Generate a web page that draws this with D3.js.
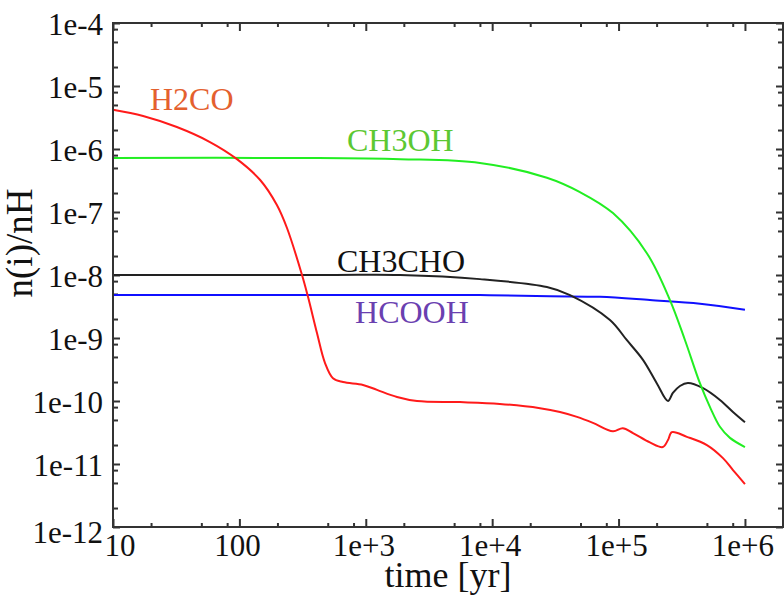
<!DOCTYPE html>
<html>
<head>
<meta charset="utf-8">
<script src="https://cdn.jsdelivr.net/npm/d3@7"></script>
<style>
  body { margin: 0; background: #ffffff; }
</style>
</head>
<body>
<svg id="chart" width="784" height="597"></svg>
<script>
// Abundances relative to H versus time (yr)
const h2coTime = [10, 17.3, 32, 58.5, 95.7, 146, 198, 238, 313, 349, 411, 476, 550, 661, 951, 1227, 1767, 2543, 5560, 11500, 23900, 34400, 46900, 62700, 90300, 108000, 130000, 177000, 224000, 246000, 264000, 347000, 500000, 670000, 804000, 1e6];
const h2coVal  = [4.2e-6, 3.34e-6, 2.23e-6, 1.29e-6, 6.9e-7, 3.22e-7, 1.29e-7, 5.57e-8, 1.0e-8, 4.5e-9, 1.2e-9, 4.0e-10, 2.3e-10, 2.0e-10, 1.8e-10, 1.5e-10, 1.16e-10, 1.0e-10, 9.6e-11, 9.0e-11, 7.7e-11, 6.7e-11, 5.6e-11, 4.5e-11, 3.3e-11, 3.7e-11, 3.1e-11, 2.2e-11, 1.86e-11, 2.4e-11, 3.2e-11, 2.7e-11, 2.0e-11, 1.24e-11, 8.0e-12, 4.8e-12];

const ch3ohTime = [10, 301, 1870, 8000, 27100, 49500, 90300, 168000, 255000, 335000, 441000, 529000, 634000, 761000, 1e6];
const ch3ohVal  = [7.2e-7, 7.2e-7, 6.9e-7, 6.0e-7, 3.5e-7, 2.07e-7, 9.6e-8, 2.2e-8, 4.0e-9, 9.3e-10, 1.9e-10, 8.0e-11, 3.9e-11, 2.6e-11, 1.86e-11];

const ch3choTime = [10, 521, 1870, 8000, 27100, 41300, 85500, 116000, 156000, 201000, 246000, 269000, 306000, 354000, 466000, 634000, 804000, 1e6];
const ch3choVal  = [1.0e-8, 1.0e-8, 1.0e-8, 8.6e-9, 6.45e-9, 4.8e-9, 1.93e-9, 9.3e-10, 4.5e-10, 1.9e-10, 1.0e-10, 1.34e-10, 1.73e-10, 1.93e-10, 1.6e-10, 1.04e-10, 6.7e-11, 4.6e-11];

const hcoohTime = [10, 1870, 8000, 28700, 71300, 177000, 441000, 1e6];
const hcoohVal  = [4.8e-9, 4.8e-9, 4.8e-9, 4.6e-9, 4.5e-9, 4.0e-9, 3.5e-9, 2.8e-9];

const xTickValues = [10, 100, 1e3, 1e4, 1e5, 1e6];
const xTickLabels = ["10", "100", "1e+3", "1e+4", "1e+5", "1e+6"];
const yTickValues = [1e-4, 1e-5, 1e-6, 1e-7, 1e-8, 1e-9, 1e-10, 1e-11, 1e-12];
const yTickLabels = ["1e-4", "1e-5", "1e-6", "1e-7", "1e-8", "1e-9", "1e-10", "1e-11", "1e-12"];

const seriesNames  = ["H2CO", "CH3OH", "CH3CHO", "HCOOH"];
const seriesLabelT = [19.6, 710, 592, 822];
const seriesLabelV = [4.2e-6, 9.3e-7, 1.12e-8, 1.73e-9];

const FONT = '"Liberation Serif", "Times New Roman", serif';

const svg = d3.select("#chart");
const mLeft = 113, mRight = 783, mTop = 23, mBottom = 527;

const x = d3.scaleLog().domain([10, 2e6]).range([mLeft, mRight]);
const y = d3.scaleLog().domain([1e-12, 1e-4]).range([mBottom, mTop]);

// minor ticks at 2, 5 and 8 times each decade
function minors(domain) {
  const out = [];
  const lo = Math.floor(Math.log10(domain[0])), hi = Math.ceil(Math.log10(domain[1]));
  for (let e = lo; e <= hi; e++) {
    [2, 5, 8].forEach(m => {
      const v = m * Math.pow(10, e);
      if (v > domain[0] && v < domain[1]) out.push(v);
    });
  }
  return out;
}
const xMinor = minors(x.domain());
const yMinor = minors(y.domain());

const axisColor = "#333333";

function styleAxis(g) {
  g.select(".domain").remove();
  g.selectAll("line").attr("stroke", axisColor).attr("stroke-width", 2);
}

// bottom and top axes
svg.append("g").attr("transform", `translate(0,${mBottom})`)
  .call(d3.axisBottom(x).tickValues(xTickValues).tickSize(-8).tickFormat(""))
  .call(styleAxis);
svg.append("g").attr("transform", `translate(0,${mBottom})`)
  .call(d3.axisBottom(x).tickValues(xMinor).tickSize(-4).tickFormat(""))
  .call(styleAxis);
svg.append("g").attr("transform", `translate(0,${mTop})`)
  .call(d3.axisTop(x).tickValues(xTickValues).tickSize(-8).tickFormat(""))
  .call(styleAxis);
svg.append("g").attr("transform", `translate(0,${mTop})`)
  .call(d3.axisTop(x).tickValues(xMinor).tickSize(-4).tickFormat(""))
  .call(styleAxis);

// left and right axes
svg.append("g").attr("transform", `translate(${mLeft},0)`)
  .call(d3.axisLeft(y).tickValues(yTickValues).tickSize(-7).tickFormat(""))
  .call(styleAxis);
svg.append("g").attr("transform", `translate(${mLeft},0)`)
  .call(d3.axisLeft(y).tickValues(yMinor).tickSize(-5).tickFormat(""))
  .call(styleAxis);
svg.append("g").attr("transform", `translate(${mRight},0)`)
  .call(d3.axisRight(y).tickValues(yTickValues).tickSize(-7).tickFormat(""))
  .call(styleAxis);
svg.append("g").attr("transform", `translate(${mRight},0)`)
  .call(d3.axisRight(y).tickValues(yMinor).tickSize(-5).tickFormat(""))
  .call(styleAxis);

// tick labels
svg.append("g").selectAll("text").data(xTickValues).join("text")
  .attr("x", (d, i) => x(d) + (i === 0 ? 7 : -2))
  .attr("y", mBottom + 29)
  .attr("text-anchor", "middle")
  .attr("font-family", FONT)
  .attr("font-size", 31)
  .attr("fill", "#111")
  .text((d, i) => xTickLabels[i]);

svg.append("g").selectAll("text").data(yTickValues).join("text")
  .attr("x", mLeft - 10)
  .attr("y", (d, i) => y(d) + (i === yTickValues.length - 1 ? 16 : 12))
  .attr("text-anchor", "end")
  .attr("font-family", FONT)
  .attr("font-size", 31)
  .attr("fill", "#111")
  .text((d, i) => yTickLabels[i]);

// axis titles
svg.append("text")
  .attr("x", (mLeft + mRight) / 2).attr("y", 587)
  .attr("text-anchor", "middle").attr("font-family", FONT)
  .attr("font-size", 36).attr("fill", "#111")
  .text("time [yr]");
svg.append("text")
  .attr("transform", "translate(32,243) rotate(-90)")
  .attr("text-anchor", "middle").attr("font-family", FONT)
  .attr("font-size", 37).attr("fill", "#111")
  .text("n(i)/nH");

// curves
const lineGen = d3.line()
  .x(d => x(d[0]))
  .y(d => y(d[1]))
  .curve(d3.curveCatmullRom.alpha(0.5));

const plot = svg.append("g");
const curves = [
  { t: hcoohTime, v: hcoohVal, color: "#1010ff" },
  { t: ch3choTime, v: ch3choVal, color: "#222222" },
  { t: ch3ohTime, v: ch3ohVal, color: "#22ee22" },
  { t: h2coTime, v: h2coVal, color: "#ff1a1a" }
];
curves.forEach(c => {
  plot.append("path")
    .datum(c.t.map((t, i) => [t, c.v[i]]))
    .attr("d", lineGen)
    .attr("fill", "none")
    .attr("stroke", c.color)
    .attr("stroke-width", 2);
});

// frame
svg.append("rect")
  .attr("x", mLeft).attr("y", mTop)
  .attr("width", mRight - mLeft).attr("height", mBottom - mTop)
  .attr("fill", "none").attr("stroke", axisColor).attr("stroke-width", 2);

// curve labels
const labelColors = ["#e4602e", "#5cc832", "#111111", "#6a40b0"];
svg.append("g").selectAll("text").data(seriesNames).join("text")
  .attr("x", (d, i) => x(seriesLabelT[i]))
  .attr("y", (d, i) => y(seriesLabelV[i]))
  .attr("font-family", FONT)
  .attr("font-size", 32)
  .attr("fill", (d, i) => labelColors[i])
  .text(d => d);
</script>
</body>
</html>
